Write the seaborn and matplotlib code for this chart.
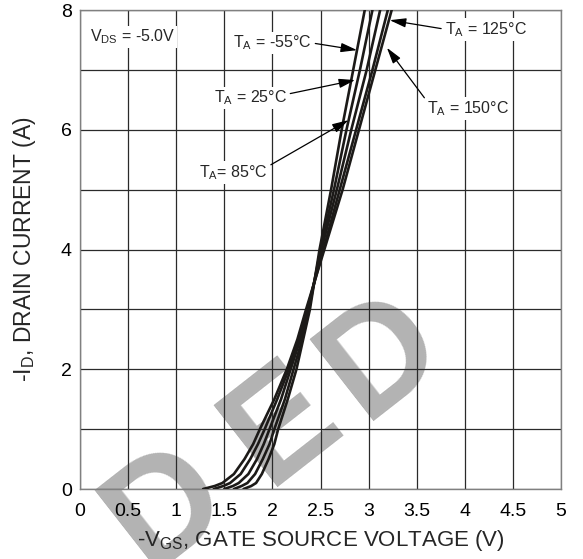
import matplotlib
matplotlib.use("Agg")
import matplotlib.pyplot as plt
import seaborn as sns
import pandas as pd

# ---- data ----
I_pts = [0, 0.05, 0.1, 0.25, 0.5, 0.75, 1, 1.5, 2, 2.5, 3, 4, 5, 6, 7, 8]
V_m55 = [1.70, 1.78, 1.83, 1.89, 1.96, 2.02, 2.06, 2.16, 2.25, 2.32, 2.39, 2.49, 2.61, 2.72, 2.84, 2.96]
V_25 = [1.60, 1.68, 1.74, 1.82, 1.90, 1.97, 2.02, 2.13, 2.22, 2.31, 2.38, 2.50, 2.64, 2.77, 2.91, 3.04]
V_85 = [1.50, 1.59, 1.65, 1.75, 1.84, 1.91, 1.97, 2.09, 2.19, 2.29, 2.37, 2.51, 2.67, 2.82, 2.98, 3.12]
V_125 = [1.39, 1.49, 1.56, 1.67, 1.77, 1.85, 1.92, 2.05, 2.17, 2.27, 2.36, 2.53, 2.70, 2.87, 3.04, 3.20]
V_150 = [1.28, 1.40, 1.48, 1.60, 1.71, 1.80, 1.87, 2.02, 2.15, 2.26, 2.35, 2.54, 2.73, 2.90, 3.07, 3.24]
temps = ["-55", "25", "85", "125", "150"]

x_ticks = [0, 0.5, 1, 1.5, 2, 2.5, 3, 3.5, 4, 4.5, 5]
x_tick_labels = ["0", "0.5", "1", "1.5", "2", "2.5", "3", "3.5", "4", "4.5", "5"]
y_ticks = [0, 2, 4, 6, 8]
y_grid = [0, 1, 2, 3, 4, 5, 6, 7, 8]
watermark_letters = ["D", "E", "D"]

rows = []
for t, vs in zip(temps, [V_m55, V_25, V_85, V_125, V_150]):
    for v, i in zip(vs, I_pts):
        rows.append({"V": v, "I": i, "T": t})
df = pd.DataFrame(rows)

sns.set_style("white")
plt.rcParams["font.family"] = ["Liberation Sans", "DejaVu Sans"]
plt.rcParams["mathtext.fontset"] = "custom"
plt.rcParams["mathtext.rm"] = "Liberation Sans"
plt.rcParams["mathtext.it"] = "Liberation Sans:italic"
plt.rcParams["mathtext.bf"] = "Liberation Sans:bold"

fig = plt.figure(figsize=(5.83, 5.59), dpi=100)
ax = fig.add_axes([80 / 583, 70 / 559, 481 / 583, 479 / 559])
ax.patch.set_alpha(0)

# watermark letters (behind everything), centres in figure pixels
wm_pos = [(168, 508), (283, 425), (383, 357)]
for ch, (px, py) in zip(watermark_letters, wm_pos):
    fig.text(px / 583, 1 - py / 559, ch, rotation=38, rotation_mode="anchor",
             ha="center", va="center", fontsize=108, fontweight="bold",
             color="#b3b3b3", zorder=-5)

ax.set_xlim(0, 5)
ax.set_ylim(0, 8)
ax.set_xticks(x_ticks)
ax.set_xticklabels(x_tick_labels)
ax.set_yticks(y_grid)
ax.set_yticklabels([str(v) if v in y_ticks else "" for v in y_grid])
ax.grid(True, color="#2a2a2a", lw=0.9, zorder=1)
ax.set_axisbelow(True)
ax.tick_params(length=0, labelsize=14, colors="black")
ax.tick_params(axis="x", pad=10)
ax.tick_params(axis="y", pad=6)
for s in ax.spines.values():
    s.set_color("#808080")
    s.set_linewidth(1.0)

sns.lineplot(data=df, x="V", y="I", units="T", estimator=None, sort=False,
             color="#1c1a18", lw=1.9, ax=ax, zorder=3)

ax.set_xlabel(r"-V$_{\rm GS}$, GATE SOURCE VOLTAGE (V)", fontsize=16, labelpad=6)
ax.set_ylabel(r"-I$_{\rm D}$, DRAIN CURRENT (A)", fontsize=16.5, labelpad=16)

ap = dict(arrowstyle="-|>,head_length=0.7,head_width=0.2", color="black",
          lw=0.9, mutation_scale=14, shrinkA=1, shrinkB=0)
bb = dict(fc="white", ec="none", pad=1.5)
fs = 11.5

ax.text(0.10, 7.55, r"V$_{\rm DS}$ = -5.0V", fontsize=fs, ha="left", va="center",
        bbox=bb, zorder=4)

ann = [
    (r"T$_{\rm A}$ = -55°C", (2.41, 7.45), (2.88, 7.33), "right", (1, 0.5)),
    (r"T$_{\rm A}$ = 125°C", (3.79, 7.68), (3.22, 7.83), "left", (0, 0.5)),
    (r"T$_{\rm A}$ = 25°C", (2.15, 6.53), (2.86, 6.83), "right", (1, 0.7)),
    (r"T$_{\rm A}$ = 150°C", (3.61, 6.36), (3.19, 7.37), "left", (0, 0.85)),
    (r"T$_{\rm A}$= 85°C", (1.95, 5.29), (2.79, 6.16), "right", (1, 0.8)),
]
for txt, xyt, xy, ha, rp in ann:
    p = dict(ap)
    p["relpos"] = rp
    ax.annotate(txt, xy=xy, xytext=xyt, textcoords="data", fontsize=fs,
                ha=ha, va="center", bbox=bb, arrowprops=p, zorder=5)

fig.savefig("out.png", dpi=100)
